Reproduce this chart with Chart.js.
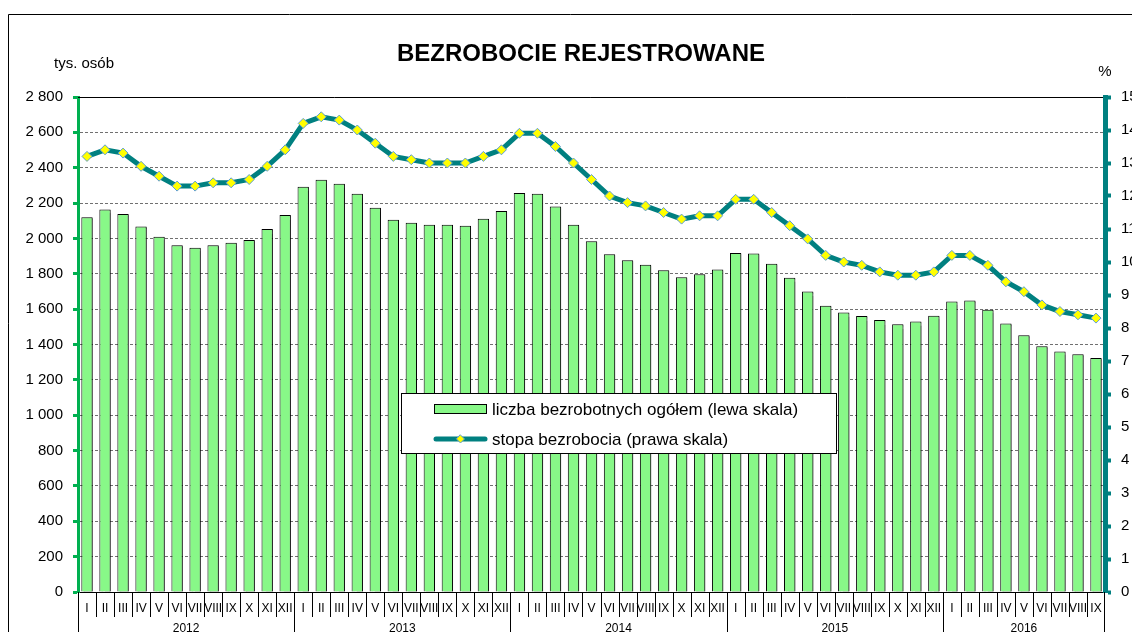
<!DOCTYPE html>
<html lang="pl">
<head>
<meta charset="utf-8">
<title>Bezrobocie rejestrowane</title>
<script src="https://cdn.jsdelivr.net/npm/chart.js@4.4.1/dist/chart.umd.min.js"></script>
<style>
  html, body { margin: 0; padding: 0; background: #fff; }
  #wrap { width: 1132px; height: 632px; }
</style>
</head>
<body>
<div id="wrap"><canvas id="chart1" width="1132" height="632"></canvas></div>
<script>
var lata = ['2012', '2013', '2014', '2015', '2016']
var miesiace = ['I', 'II', 'III', 'IV', 'V', 'VI', 'VII', 'VIII', 'IX', 'X', 'XI', 'XII']

// liczba bezrobotnych, tys. osób (lewa skala)
var liczba = [
  2120, 2163, 2138, 2068, 2009, 1961, 1947, 1961, 1975, 1991, 2053, 2132,
  2292, 2332, 2309, 2253, 2174, 2106, 2089, 2077, 2077, 2072, 2111, 2155,
  2257, 2253, 2180, 2078, 1984, 1910, 1876, 1851, 1820, 1781, 1798, 1824,
  1917, 1915, 1857, 1778, 1700, 1619, 1581, 1561, 1538, 1515, 1530, 1562,
  1643, 1649, 1597, 1519, 1453, 1390, 1360, 1345, 1323
]

// stopa bezrobocia, % (prawa skala)
var stopa = [
  13.2, 13.4, 13.3, 12.9, 12.6, 12.3, 12.3, 12.4, 12.4, 12.5, 12.9, 13.4,
  14.2, 14.4, 14.3, 14.0, 13.6, 13.2, 13.1, 13.0, 13.0, 13.0, 13.2, 13.4,
  13.9, 13.9, 13.5, 13.0, 12.5, 12.0, 11.8, 11.7, 11.5, 11.3, 11.4, 11.4,
  11.9, 11.9, 11.5, 11.1, 10.7, 10.2, 10.0, 9.9, 9.7, 9.6, 9.6, 9.7,
  10.2, 10.2, 9.9, 9.4, 9.1, 8.7, 8.5, 8.4, 8.3
]

var etykiety = []
for (var i = 0; i < liczba.length; i++) etykiety.push(miesiace[i % 12])

var FONT = 'Liberation Sans, Arial, sans-serif'
var ZIELONY = '#88f888'
var MORSKI = '#008080'

function romb (c, x, y, r) {
  c.beginPath()
  c.moveTo(x, y - r)
  c.lineTo(x + r, y)
  c.lineTo(x, y + r)
  c.lineTo(x - r, y)
  c.closePath()
  c.fillStyle = '#ffff00'
  c.fill()
  c.lineWidth = 1
  c.strokeStyle = '#5b9bd5'
  c.stroke()
}

var dodatki = {
  id: 'dodatki',
  beforeDatasetDraw: function (chart, args) {
    if (args.index === 0) {
      var c = chart.ctx
      c.save()
      c.shadowColor = 'rgba(0,0,0,0.4)'
      c.shadowOffsetX = 2
      c.shadowOffsetY = 1
      c.shadowBlur = 1
    }
  },
  afterDatasetDraw: function (chart, args) {
    if (args.index === 0) chart.ctx.restore()
  },
  afterDatasetsDraw: function (chart) {
    // legenda w polu wykresu
    var c = chart.ctx
    c.save()
    c.fillStyle = '#fff'
    c.fillRect(401, 393, 435, 60)
    c.strokeStyle = '#000'
    c.lineWidth = 1
    c.strokeRect(401.5, 393.5, 435, 60)

    c.fillStyle = ZIELONY
    c.fillRect(434.5, 404.5, 52, 9)
    c.strokeRect(434.5, 404.5, 52, 9)

    c.beginPath()
    c.moveTo(436, 439)
    c.lineTo(485, 439)
    c.strokeStyle = MORSKI
    c.lineWidth = 5
    c.lineCap = 'round'
    c.stroke()
    romb(c, 460.5, 439, 4)

    c.fillStyle = '#000'
    c.font = '17px ' + FONT
    c.textBaseline = 'middle'
    c.textAlign = 'left'
    c.fillText('liczba bezrobotnych ogółem (lewa skala)', 492, 410)
    c.fillText('stopa bezrobocia (prawa skala)', 492, 440)
    c.restore()
  },
  afterDraw: function (chart) {
    var c = chart.ctx
    var a = chart.chartArea
    var x = chart.scales.x
    c.save()

    // ramka
    c.strokeStyle = '#000'
    c.lineWidth = 1
    c.beginPath()
    c.moveTo(8.5, 632)
    c.lineTo(8.5, 14.5)
    c.lineTo(1132, 14.5)
    c.stroke()

    // górna krawędź obszaru wykresu
    c.beginPath()
    c.moveTo(a.left, Math.round(a.top) + 0.5)
    c.lineTo(a.right - 2, Math.round(a.top) + 0.5)
    c.stroke()

    // tytuł i opisy osi
    c.fillStyle = '#000'
    c.textBaseline = 'middle'
    c.textAlign = 'center'
    c.font = 'bold 24px ' + FONT
    c.fillText('BEZROBOCIE REJESTROWANE', 581, 54)
    c.font = '15px ' + FONT
    c.textAlign = 'left'
    c.fillText('tys. osób', 54, 64)
    c.textAlign = 'center'
    c.fillText('%', 1105, 72)

    // separatory miesięcy i lat
    var krok = (x.right - x.left) / etykiety.length
    var dol = a.bottom
    c.lineWidth = 1
    c.strokeStyle = '#000'
    for (var i = 0; i <= etykiety.length; i++) {
      var px = Math.round(x.getPixelForValue(i) - krok / 2) + 0.5
      if (i === etykiety.length) px = Math.round(x.getPixelForValue(i - 1) + krok / 2) - 0.5
      var dlugi = i % 12 === 0 || i === etykiety.length
      c.beginPath()
      c.moveTo(px, dol)
      c.lineTo(px, dlugi ? 632 : dol + 25)
      c.stroke()
    }
    c.font = '12px ' + FONT
    c.textBaseline = 'top'
    for (var r = 0; r < lata.length; r++) {
      var pierwszy = r * 12
      var ostatni = Math.min(r * 12 + 11, etykiety.length - 1)
      var srodek = (x.getPixelForValue(pierwszy) + x.getPixelForValue(ostatni)) / 2
      c.fillText(lata[r], srodek, 623)
    }
    c.restore()
  }
}

var ctx1 = document.getElementById('chart1').getContext('2d')
var myChart1 = new Chart(ctx1, {
  type: 'bar',
  data: {
    labels: etykiety,
    datasets: [
      {
        label: 'liczba bezrobotnych ogółem (lewa skala)',
        data: liczba,
        yAxisID: 'y',
        backgroundColor: ZIELONY,
        borderColor: '#000',
        borderWidth: 1,
        barPercentage: 0.63,
        categoryPercentage: 1.0,
        order: 1
      },
      {
        type: 'line',
        label: 'stopa bezrobocia (prawa skala)',
        data: stopa,
        yAxisID: 'y1',
        borderColor: MORSKI,
        borderWidth: 5,
        tension: 0,
        pointStyle: 'rectRot',
        pointRadius: 5,
        pointBackgroundColor: '#ffff00',
        pointBorderColor: '#5b9bd5',
        pointBorderWidth: 1,
        order: 0
      }
    ]
  },
  options: {
    responsive: false,
    animation: false,
    layout: { padding: { top: 97, left: 0, right: 0, bottom: 0 } },
    plugins: {
      legend: { display: false },
      title: { display: false },
      tooltip: { enabled: false }
    },
    scales: {
      x: {
        offset: true,
        grid: { display: false },
        border: { display: true, color: '#000', width: 1 },
        ticks: {
          autoSkip: false,
          maxRotation: 0,
          padding: 1,
          color: '#000',
          font: { family: FONT, size: 12 }
        },
        afterFit: function (s) { s.height = 40 }
      },
      y: {
        position: 'left',
        min: 0,
        max: 2800,
        ticks: {
          stepSize: 200,
          padding: 10,
          color: '#000',
          font: { family: FONT, size: 15 },
          callback: function (v) { return String(v).replace(/\B(?=(\d{3})+(?!\d))/g, ' ') }
        },
        grid: {
          color: '#707070',
          lineWidth: 1,
          tickColor: '#00b050',
          tickWidth: 3,
          tickLength: 5
        },
        border: { display: true, color: '#00b050', width: 3, dash: [3, 2] },
        afterFit: function (s) { s.width = 78 }
      },
      y1: {
        position: 'right',
        min: 0,
        max: 15,
        ticks: {
          stepSize: 1,
          padding: 10,
          color: '#000',
          font: { family: FONT, size: 15 }
        },
        grid: {
          drawOnChartArea: false,
          tickColor: MORSKI,
          tickWidth: 4,
          tickLength: 6
        },
        border: { display: true, color: MORSKI, width: 5 },
        afterFit: function (s) { s.width = 27 }
      }
    }
  },
  plugins: [dodatki]
})
</script>
</body>
</html>
